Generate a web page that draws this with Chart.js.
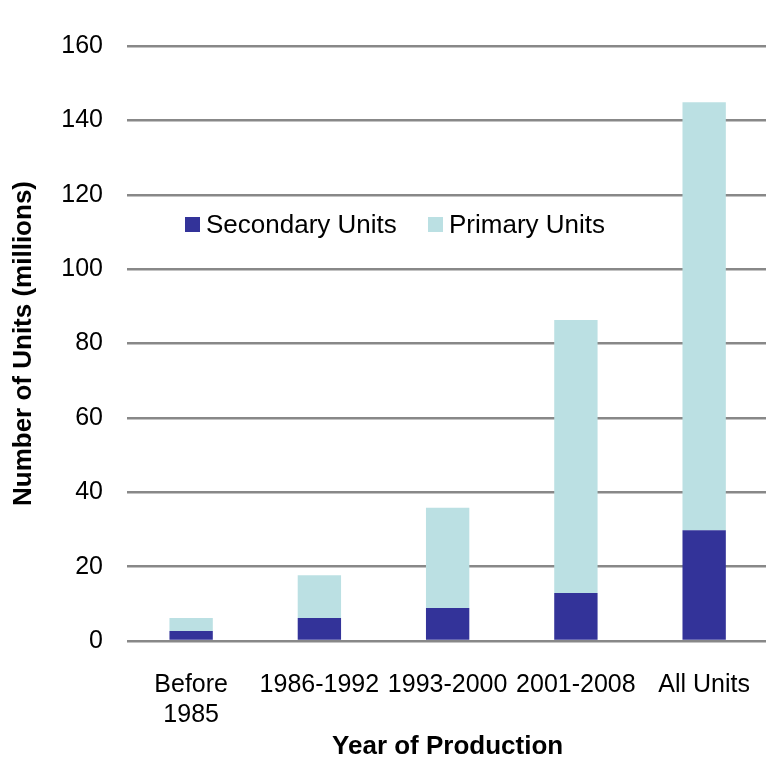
<!DOCTYPE html>
<html>
<head>
<meta charset="utf-8">
<script src="https://cdn.jsdelivr.net/npm/chart.js@4/dist/chart.umd.min.js"></script>
<style>
  body { margin: 0; background: #fff; }
  #wrap { width: 766px; height: 762px; overflow: hidden; }
</style>
</head>
<body>
<div id="wrap"><canvas id="unitsChart" width="771" height="762"></canvas></div>
<script>
// --- Data ---
const categories = [['Before', '1985'], '1986-1992', '1993-2000', '2001-2008', 'All Units'];
const secondaryUnits = [2.7, 6.2, 8.9, 12.9, 29.8];
const primaryUnits = [3.5, 11.5, 26.9, 73.4, 115.1];
const yTicks = [0, 20, 40, 60, 80, 100, 120, 140, 160];

const FONT = '"Liberation Sans", Arial, sans-serif';
const DARK = '#333399';
const LIGHT = '#bbe0e3';

// legend drawn inside the plot area, like the original
const insideLegend = {
    id: 'insideLegend',
    afterDraw(chart) {
        const ctx = chart.ctx;
        const area = chart.chartArea;
        const items = [
            { x: area.left + 58, label: chart.data.datasets[0].label, color: chart.data.datasets[0].backgroundColor },
            { x: area.left + 301, label: chart.data.datasets[1].label, color: chart.data.datasets[1].backgroundColor }
        ];
        const y = 225;
        ctx.save();
        ctx.font = '26px ' + FONT;
        ctx.textBaseline = 'middle';
        items.forEach(it => {
            ctx.fillStyle = it.color;
            ctx.fillRect(it.x, y - 8, 15, 15);
            ctx.fillStyle = '#000';
            ctx.fillText(it.label, it.x + 21, y + 1);
        });
        ctx.restore();
    }
};

const ctx = document.getElementById('unitsChart').getContext('2d');
new Chart(ctx, {
    type: 'bar',
    data: {
        labels: categories,
        datasets: [
            { label: 'Secondary Units', data: secondaryUnits, backgroundColor: DARK },
            { label: 'Primary Units', data: primaryUnits, backgroundColor: LIGHT }
        ]
    },
    options: {
        responsive: false,
        animation: false,
        layout: { padding: { top: 46, right: 0, left: 0, bottom: 0 } },
        datasets: { bar: { categoryPercentage: 1, barPercentage: 0.338 } },
        plugins: {
            legend: { display: false },
            tooltip: { enabled: false }
        },
        scales: {
            x: {
                stacked: true,
                grid: { display: false },
                border: { display: false },
                ticks: {
                    color: '#000',
                    font: { family: FONT, size: 25 },
                    padding: 21,
                    maxRotation: 0,
                    autoSkip: false
                },
                title: {
                    display: true,
                    text: 'Year of Production',
                    color: '#000',
                    font: { family: FONT, size: 26, weight: 'bold' },
                    padding: { top: 0, bottom: 0 }
                },
                afterFit(scale) { scale.height = 121; }
            },
            y: {
                stacked: true,
                min: 0,
                max: 160,
                afterBuildTicks(scale) { scale.ticks = yTicks.map(v => ({ value: v })); },
                grid: { color: '#888888', lineWidth: 2.5, drawTicks: false },
                border: { display: false },
                ticks: {
                    color: '#000',
                    font: { family: FONT, size: 25 },
                    padding: 24
                },
                title: {
                    display: true,
                    text: 'Number of Units (millions)',
                    color: '#000',
                    font: { family: FONT, size: 26, weight: 'bold' },
                    padding: { top: 8, bottom: 0 }
                },
                afterFit(scale) { scale.width = 127; }
            }
        }
    },
    plugins: [insideLegend]
});
</script>
</body>
</html>
